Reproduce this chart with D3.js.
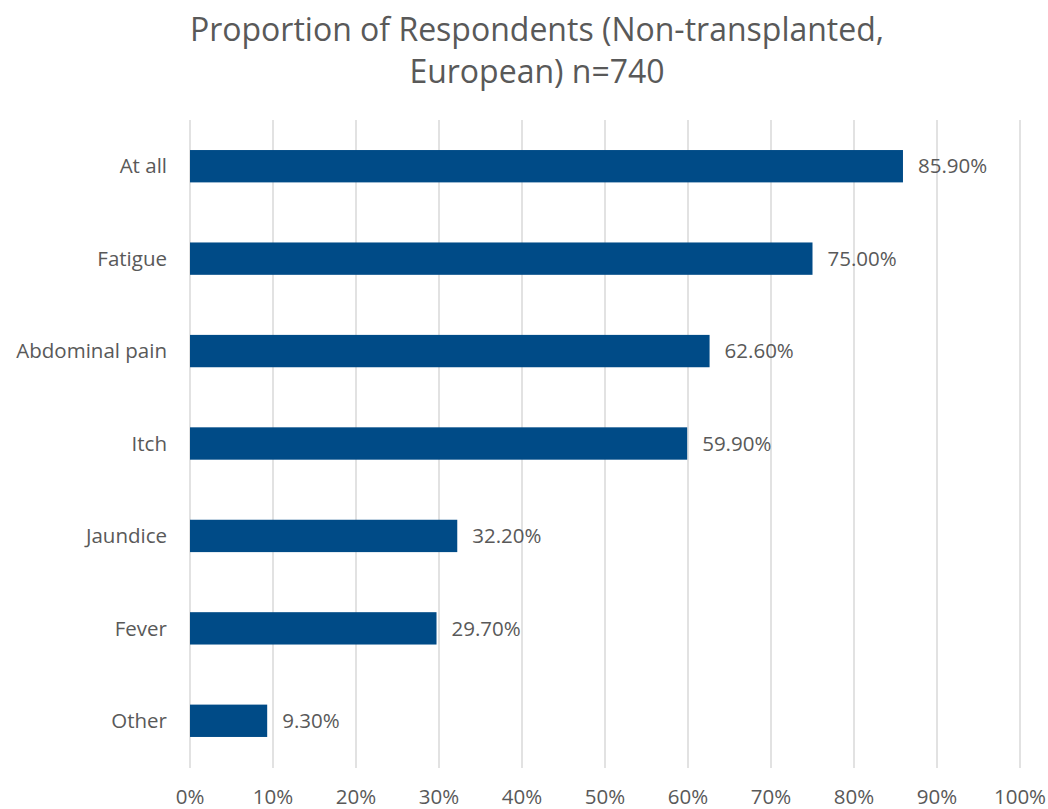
<!DOCTYPE html>
<html>
<head>
<meta charset="utf-8">
<script src="https://cdn.jsdelivr.net/npm/d3@7.9.0/dist/d3.min.js"></script>
<style>
  body { margin: 0; background: #fff; }
  text { font-family: "Open Sans", "Noto Sans", sans-serif; fill: #595959; }
</style>
</head>
<body>
<svg id="chart" width="1048" height="809"></svg>
<script>
// symptoms, top to bottom
const categories = ['At all', 'Fatigue', 'Abdominal pain', 'Itch', 'Jaundice', 'Fever', 'Other'];
const values = [85.9, 75.0, 62.6, 59.9, 32.2, 29.7, 9.3];
const ticks = [0, 10, 20, 30, 40, 50, 60, 70, 80, 90, 100];
const titleLines = ['Proportion of Respondents (Non-transplanted,', 'European) n=740'];

const svg = d3.select('#chart');
const plotLeft = 190, plotRight = 1020, plotTop = 120, plotBottom = 767;

const x = d3.scaleLinear().domain([0, 100]).range([plotLeft, plotRight]);
const y = d3.scaleBand().domain(categories).range([plotTop, plotBottom])
  .paddingInner(0.65).paddingOuter(0.325);

// gridlines
svg.append('g').selectAll('line')
  .data(ticks).enter().append('line')
    .attr('x1', d => x(d)).attr('x2', d => x(d))
    .attr('y1', plotTop).attr('y2', plotBottom + 1)
    .attr('stroke', '#d9d9d9').attr('stroke-width', 1.5);

// bars
svg.append('g').selectAll('rect')
  .data(values).enter().append('rect')
    .attr('x', x(0))
    .attr('y', (_, i) => y(categories[i]))
    .attr('width', d => x(d) - x(0))
    .attr('height', y.bandwidth())
    .attr('fill', '#004b87');

// data labels
svg.append('g').selectAll('text')
  .data(values).enter().append('text')
    .attr('x', d => x(d) + 15)
    .attr('y', (_, i) => y(categories[i]) + y.bandwidth() / 2)
    .attr('dy', '0.35em')
    .attr('font-size', 20.5)
    .text(d => d.toFixed(2) + '%');

// category labels
svg.append('g').selectAll('text')
  .data(categories).enter().append('text')
    .attr('x', plotLeft - 23)
    .attr('y', d => y(d) + y.bandwidth() / 2)
    .attr('dy', '0.35em')
    .attr('text-anchor', 'end')
    .attr('font-size', 20.5)
    .text(d => d);

// x tick labels
svg.append('g').selectAll('text')
  .data(ticks).enter().append('text')
    .attr('x', d => x(d))
    .attr('y', 797)
    .attr('dy', '0.35em')
    .attr('text-anchor', 'middle')
    .attr('font-size', 20.5)
    .text(d => d + '%');

// title
svg.append('g').selectAll('text')
  .data(titleLines).enter().append('text')
    .attr('x', 537)
    .attr('y', (_, i) => 30 + i * 42)
    .attr('dy', '0.35em')
    .attr('text-anchor', 'middle')
    .attr('font-size', 32)
    .text(d => d);
</script>
</body>
</html>
